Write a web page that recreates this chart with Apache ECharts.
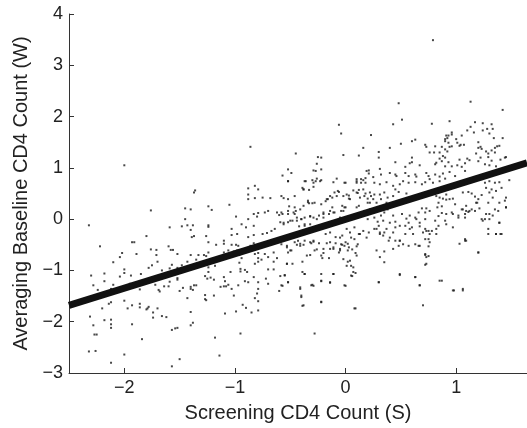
<!DOCTYPE html>
<html>
<head>
<meta charset="utf-8">
<script src="https://cdn.jsdelivr.net/npm/echarts@6/dist/echarts.min.js"></script>
<style>html,body{margin:0;padding:0;background:#fff}#c{width:527px;height:428px}</style>
</head>
<body>
<div id="c"></div>
<script>
const xTicks = [-2, -1, 0, 1];
const yTicks = [-3, -2, -1, 0, 1, 2, 3, 4];
const fitX = [-2.5, 1.64];
const fitY = [-1.68, 1.10];
const points = [
[-2.0,1.05],[-1.36,0.56],[-1.37,0.52],[-1.76,0.17],[-1.45,0.21],[-1.40,0.19],[-1.24,0.25],[-1.21,0.18],[-2.32,-0.12],[-1.45,0.0],[-1.59,-0.16],[-1.48,-0.14],[-1.43,-0.12],[-1.38,-0.12],[-1.40,-0.21],[-1.24,-0.12],[-1.24,-0.15],[-1.80,-0.33],[-1.39,-0.35],[-1.37,-0.33],[-1.26,-0.33],
[-2.22,-0.53],[-1.93,-0.45],[-1.91,-0.45],[-1.60,-0.53],[-1.58,-0.60],[-1.56,-0.60],[-1.76,-0.59],[-1.71,-0.60],[-1.71,-0.70],[-2.02,-0.66],[-2.04,-0.74],[-1.89,-0.68],[-2.10,-0.84],[-1.52,-0.68],[-1.40,-0.70],[-1.33,-0.70],[-1.28,-0.70],[-1.24,-0.65],[-1.24,-0.45],[-1.17,-0.50],[-1.26,-0.72],[-1.35,-0.79],[-1.43,-0.83],[-1.48,-0.90],[-1.57,-0.89],[-1.52,-0.95],[-1.59,-0.96],[-1.66,-1.00],[-1.75,-0.90],[-1.70,-0.83],[-1.78,-0.95],[-1.85,-1.07],[-2.0,-0.98],[-2.0,-1.05],[-1.94,-1.10],[-2.04,-1.12],[-2.18,-1.06],[-2.18,-1.21],[-2.30,-1.10],[-2.10,-1.28],[-2.28,-1.29],[-2.24,-1.38],[-2.12,-1.36],[-1.95,-1.26],[-1.93,-1.32],[-1.90,-1.26],[-1.86,-1.37],[-1.69,-1.38],[-1.68,-1.41],[-1.64,-1.31],[-1.60,-1.31],[-1.72,-1.28],[-1.52,-1.15],[-1.52,-1.18],[-1.59,-1.22],[-1.47,-1.34],[-1.50,-1.40],[-1.40,-1.32],[-1.40,-1.36],[-1.37,-1.29],[-1.35,-1.29],[-1.27,-1.11],[-1.25,-1.16],[-1.22,-1.14],[-1.19,-1.18],[-1.24,-1.03],[-1.24,-0.94],[-1.18,-0.91],[-1.13,-1.32],[-1.27,-1.48],[-1.27,-1.56],[-1.26,-1.58],[-1.19,-1.49],[-1.43,-1.54],[-1.38,-1.38],[-2.0,-1.59],[-2.12,-1.62],[-2.14,-1.65],[-2.20,-1.74],[-1.97,-1.74],[-1.93,-1.68],[-1.86,-1.72],[-1.86,-1.65],[-1.80,-1.76],[-1.79,-1.74],[-1.78,-1.71],[-1.74,-1.82],[-1.74,-1.92],[-1.70,-1.74],[-1.66,-1.89],[-1.62,-1.91],[-1.40,-1.81],[-2.31,-1.90],[-2.28,-2.07],[-2.18,-1.97],[-2.12,-1.96],[-2.12,-2.05],[-2.12,-2.12],[-1.93,-2.05],[-1.38,-2.02],[-1.40,-2.07],[-1.52,-2.12],[-1.54,-2.13],[-1.57,-2.16],[-2.27,-2.25],[-2.25,-2.25],[-1.84,-2.34],[-1.18,-2.31],[-2.32,-2.58],[-2.26,-2.57],[-2.0,-2.64],[-2.12,-2.80],[-1.50,-2.73],[-1.57,-2.87],[-1.14,-2.66],
[-0.06,1.84],[-0.04,1.67],[-0.86,1.41],[-0.45,1.28],[-0.02,1.25],[0.12,1.24],[0.16,1.39],[0.23,1.64],[-0.25,1.21],[-0.22,1.20],[-0.26,1.08],[-0.27,0.94],[-0.29,0.95],[-0.22,0.97],[-0.52,0.97],[-0.49,0.90],[-0.57,0.85],[-0.52,0.74],[-0.26,0.79],[-0.22,0.76],[-0.27,0.74],[-0.36,0.74],[-0.30,0.76],[-0.08,0.79],[-0.11,0.72],[0.0,0.71],[0.10,0.78],[0.10,0.71],[0.14,0.78],[0.18,0.80],[0.16,0.76],[0.18,0.71],[0.19,0.94],[0.21,0.89],[0.21,0.95],[0.25,0.82],[-0.39,0.61],[-0.38,0.58],[-0.33,0.57],[-0.29,0.63],[-0.88,0.60],[-0.88,0.48],[-0.88,0.39],[-0.82,0.65],[-0.79,0.58],[-0.82,0.41],[-0.75,0.42],[-0.68,0.41],[-0.56,0.41],[-1.05,0.28],[-0.06,0.53],[-0.08,0.45],[-0.12,0.42],[-0.16,0.39],[-0.18,0.35],[-0.02,0.45],[0.03,0.46],[0.03,0.40],[0.07,0.56],[0.12,0.57],[0.11,0.51],[0.16,0.58],[0.18,0.50],[0.20,0.40],[0.23,0.45],[0.22,0.32],[0.10,0.23],[0.12,0.26],[-0.03,0.26],[0.00,0.23],[-0.02,0.16],[-0.12,0.23],[-0.11,0.13],[-0.15,0.10],[-0.20,0.10],[-0.20,0.03],[-0.34,0.33],[-0.33,0.31],[-0.30,0.31],[-0.38,0.26],[-0.41,0.19],[-0.51,0.25],[-0.52,0.16],[-0.46,0.23],[-0.45,0.16],[-0.46,0.10],[-0.57,0.10],[-0.60,0.08],[-0.62,0.13],[-0.70,0.16],[-0.73,0.13],[-0.83,0.10],[-0.80,0.05],[-0.79,0.12],[-0.88,0.0],[-0.83,-0.13],[-0.99,0.05],[-0.94,-0.10],[-0.90,-0.16],[-1.03,-0.19],[-0.98,-0.29],[-1.03,-0.31],[-0.88,-0.35],[-0.83,-0.31],[-0.75,-0.29],[-0.71,-0.27],[-0.67,-0.23],[-0.64,-0.19],[-0.59,-0.06],[-0.56,-0.10],[-0.52,-0.06],[-0.48,-0.03],[-0.44,-0.03],[-0.40,0.0],[-0.37,0.03],[-0.32,0.05],[-0.29,0.03],[-0.24,0.07],[-0.42,-0.14],[-0.37,-0.13],[-0.32,-0.10],[0.01,-0.19],[0.04,-0.26],[0.08,-0.16],[0.12,-0.29],[0.16,-0.23],[0.21,-0.26],[-0.03,-0.32],[-0.09,-0.35],[-0.14,-0.26],[-0.18,-0.29],
[-1.10,-0.42],[-1.03,-0.50],[-0.99,-0.50],[-0.97,-0.52],[-1.10,-0.48],[-0.83,-0.47],[-0.86,-0.52],[-1.10,-0.65],[-1.06,-0.61],[-1.01,-0.63],[-0.98,-0.61],[-0.96,-0.70],[-0.94,-0.76],[-0.96,-0.85],[-0.95,-0.97],[-0.95,-1.02],[-0.91,-0.99],[-0.89,-1.03],[-1.10,-1.13],[-1.09,-1.21],[-1.04,-1.03],[-1.10,-1.31],[-1.08,-1.31],[-1.06,-1.28],[-1.03,-1.36],[-1.01,-1.49],[-0.97,-1.29],[-0.91,-1.21],[-0.88,-1.23],[-0.83,-1.13],[-0.82,-0.68],[-0.79,-0.66],[-0.82,-0.87],[-0.79,-0.76],[-0.79,-0.83],[-0.76,-0.79],[-0.79,-1.23],[-0.79,-1.36],[-0.80,-1.45],[-0.82,-1.54],[-0.79,-1.60],[-0.79,-1.78],[-0.85,-1.82],[-0.99,-1.80],[-0.93,-1.67],[-0.90,-1.73],[-1.09,-1.84],[-0.95,-2.23],[-0.73,-0.68],[-0.70,-0.74],[-0.65,-0.65],[-0.62,-0.76],[-0.65,-0.83],[-0.70,-0.98],[-0.65,-0.98],[-0.72,-1.16],[-0.70,-1.26],[-0.59,-1.11],[-0.55,-1.09],[-0.57,-1.30],[-0.60,-1.40],[-0.52,-1.23],[-0.53,-0.87],[-0.48,-0.87],[-0.53,-0.55],[-0.52,-0.65],[-0.49,-0.61],[-0.44,-0.50],[-0.41,-0.48],[-0.38,-0.50],[-0.43,-0.42],[-0.39,-0.83],[-0.39,-1.03],[-0.37,-1.07],[-0.41,-1.36],[-0.40,-1.52],[-0.39,-1.69],[-0.35,-0.71],[-0.32,-0.70],[-0.30,-1.28],[-0.29,-1.30],[-0.31,-0.47],[-0.29,-0.44],[-0.24,-0.47],[-0.26,-0.59],[-0.20,-0.66],[-0.21,-0.76],[-0.15,-0.76],[-0.17,-0.47],[-0.14,-0.58],[-0.09,-0.47],[-0.11,-0.58],[-0.22,-1.07],[-0.22,-1.21],[-0.22,-1.61],[-0.11,-1.07],[-0.14,-1.24],[-0.28,-2.23],[-0.05,-0.58],[-0.06,-0.65],[-0.03,-0.50],[0.0,-0.45],[0.02,-0.48],[0.03,-0.55],[0.06,-0.59],[0.10,-0.53],[0.02,-0.83],[0.07,-0.94],[0.09,-1.05],[0.06,-1.11],[0.0,-1.30],[0.09,-1.74],[0.09,-0.66],
[0.32,0.87],[0.40,0.90],[0.45,0.87],[0.46,0.84],[0.54,0.90],[0.57,0.84],[0.63,0.87],[0.64,0.83],[0.73,0.90],[0.75,0.84],[0.81,0.87],[0.85,0.83],[0.88,0.89],[0.94,0.92],[0.99,0.84],[1.08,0.94],
[0.26,0.71],[0.31,0.68],[0.37,0.72],[0.43,0.65],[0.45,0.58],[0.49,0.68],[0.52,0.74],[0.57,0.71],[0.63,0.72],[0.69,0.68],[0.72,0.72],[0.76,0.78],[0.79,0.71],[0.85,0.74],[0.90,0.79],
[0.26,0.48],[0.31,0.48],[0.35,0.52],[0.38,0.42],[0.32,0.39],[0.28,0.32],[0.37,0.32],[0.43,0.45],[0.48,0.53],[0.55,0.50],
[1.23,0.78],[1.26,0.71],[1.30,0.74],[1.35,0.71],[1.39,0.72],[1.48,0.76],[1.27,0.61],[1.32,0.58],[1.36,0.55],[1.41,0.61],[1.45,0.42],[1.44,0.36],[1.45,0.23],[1.30,0.52],
[0.82,0.45],[0.85,0.42],[0.88,0.40],[0.91,0.38],[0.94,0.39],[0.97,0.40],[0.91,0.48],[0.84,0.32],[0.87,0.25],[0.99,0.29],[1.06,0.52],[1.11,0.53],[1.14,0.50],[1.17,0.44],[1.20,0.39],[1.23,0.47],[1.19,0.32],[1.06,0.19],[1.09,0.16],[1.14,0.19],[1.17,0.16],[1.08,0.03],[1.11,0.14],[1.02,0.07],[0.97,0.10],[0.91,0.10],[0.87,0.12],[0.83,0.23],[0.90,-0.03],[0.84,-0.13],[0.76,0.16],[0.73,0.21],[0.69,0.21],[0.72,0.13],[0.66,0.13],[0.63,0.03],[0.58,0.07],[0.55,0.01],[0.57,-0.07],[0.54,-0.13],[0.60,-0.16],[0.67,-0.07],[0.70,-0.26],[0.75,-0.23],[0.78,-0.23],[0.82,-0.29],[0.67,-0.14],[0.72,-0.19],[0.64,0.0],[0.72,0.0],[0.51,0.10],[0.49,-0.13],[0.45,-0.05],[0.43,0.07],[0.38,0.19],[0.35,0.13],[0.32,0.07],[0.29,-0.05],[0.34,-0.03],[0.40,-0.07],[0.28,-0.19],[0.31,-0.29],[0.35,-0.26],[0.40,-0.36],[0.45,-0.42],[0.49,-0.42],[0.57,-0.52],[0.66,-0.52],[0.76,-0.45],[0.72,-0.39],[0.75,-0.53],[1.08,-0.39],[1.09,-0.42],[1.03,-0.48],[1.20,-0.65],[1.29,-0.19],[1.29,-0.29],[1.30,0.0],[1.33,0.07],[1.36,-0.29],[1.40,-0.29],[1.35,0.19],[1.38,0.16],[1.23,0.0],[1.24,-0.03],[1.27,0.10],[1.39,-0.07],[0.28,-0.61],[0.35,-0.63],[0.43,-0.58],[0.31,-0.74],[0.35,-0.84],[0.72,-0.70],[0.75,-0.72],[0.72,-0.89],[0.49,-1.09],[0.63,-1.13],[0.67,-1.29],[0.30,-1.23],[0.87,-1.20],[0.98,-1.39],[1.06,-1.36],[1.06,-1.39],[0.70,-1.68],
[0.79,3.49],[0.48,2.26],[1.13,2.29],[1.42,2.13],[0.51,1.94],[0.43,1.85],[0.78,1.86],[0.94,1.91],[1.17,1.89],[1.24,1.87],[1.32,1.85],[1.13,1.80],[1.10,1.73],[1.16,1.69],[1.24,1.73],[1.28,1.76],[1.33,1.76],[1.30,1.67],[1.42,1.58],[1.34,1.58],[0.91,1.63],[0.93,1.63],[0.90,1.56],[0.92,1.58],[0.96,1.69],[0.96,1.65],[1.00,1.56],[1.05,1.63],[0.90,1.52],[0.93,1.49],[0.96,1.42],[0.94,1.41],[0.90,1.36],[0.92,1.32],[0.88,1.23],[0.87,1.41],[1.01,1.49],[1.04,1.45],[1.07,1.45],[1.03,1.43],[0.60,1.52],[0.63,1.55],[0.50,1.47],[0.40,1.39],[0.72,1.45],[0.73,1.41],[0.81,1.42],[0.76,1.30],[0.80,1.30],[0.85,1.30],[1.20,1.50],[1.22,1.41],[1.20,1.39],[1.23,1.37],[1.35,1.39],[1.37,1.42],[1.39,1.43],[1.32,1.34],[1.35,1.30],[1.27,1.32],[1.29,1.28],[1.29,1.21],[1.32,1.14],[1.40,1.16],[1.44,1.20],[1.45,1.21],[1.18,1.28],[1.22,1.20],[1.20,1.13],[1.12,1.15],[1.10,1.18],[1.08,1.09],[0.30,1.31],[0.30,1.20],[0.45,1.11],[0.58,1.09],[0.60,1.11],[0.60,1.20],[0.67,1.05],[0.54,1.02],[0.81,1.07],[0.82,1.10],[0.87,1.13],[0.90,1.03],[0.93,1.11],[0.96,1.03],[0.85,1.18],[0.90,1.20],[1.01,1.05],[1.03,1.16],[1.05,1.02],[1.26,1.07],[1.30,1.05],[1.36,1.03],[0.31,0.98],
[-0.52,0.74],[-0.37,0.74],[-0.29,0.71],[-0.23,0.74],[-0.01,0.71],[0.10,0.74],[0.14,0.71],[-0.58,0.45],[-0.52,0.39],[-0.46,0.45],[-0.38,0.58],[-0.34,0.36],[-0.28,0.32],[-0.22,0.29],[-0.17,0.39],[-0.14,0.45],[-0.10,0.52],[-0.07,0.55],[0.01,0.48],[0.04,0.39],[0.10,0.52],[0.13,0.42],[0.17,0.45],[0.22,0.52],[0.20,0.32],[0.25,0.39],
[-0.58,0.13],[-0.52,0.10],[-0.47,0.13],[-0.56,-0.07],[-0.50,-0.03],[-0.44,0.03],[-0.40,0.0],[-0.37,-0.10],[-0.32,0.06],[-0.26,0.0],[-0.20,0.13],[-0.14,0.16],[-0.10,0.13],[-0.04,0.16],[-0.01,0.23],[-0.05,0.03],[0.04,0.0],[0.08,0.06],[0.13,0.10],[0.17,0.16],[0.22,0.19],[0.20,0.0],[0.26,0.03],
[-0.58,-0.49],[-0.53,-0.52],[-0.50,-0.61],[-0.46,-0.45],[-0.41,-0.52],[-0.37,-0.42],[-0.32,-0.45],[-0.29,-0.42],[-0.28,-0.61],[-0.20,-0.58],[-0.22,-0.71],[-0.14,-0.45],[-0.11,-0.55],[-0.05,-0.36],[-0.04,-0.49],[-0.01,-0.52],[0.02,-0.61],[0.05,-0.36],[0.08,-0.39],[0.11,-0.49],[0.13,-0.29],[0.10,-0.71],[-0.05,-0.61],[0.04,-0.81],[-0.02,-0.78],[0.01,-0.91],[0.05,-1.10],[0.07,-1.03],[0.19,-0.36],[0.26,-0.19],[0.30,-0.13],[0.31,-0.26],[0.34,-0.32],[0.39,-0.42],[0.37,-0.19],[0.45,-0.16],[0.43,-0.26],[0.49,-0.42],[0.54,-0.29],[0.52,-0.49],[0.48,-0.52],[0.58,-0.19],[0.61,-0.29],[0.63,-0.49],[0.72,-0.68],[0.73,-0.74],[0.67,-0.52],[0.75,-0.39],[0.76,-0.29],[0.73,-0.23],[0.82,-0.19],[0.81,-0.03],[0.84,0.06],[0.91,-0.10],[0.97,-0.16],[0.96,0.13],[1.02,0.03],[1.08,0.10],[1.05,0.19],[1.09,0.26],[1.12,0.16],[1.21,0.21],[1.26,0.0],[1.30,0.10],[1.18,0.32],[1.29,0.32],[1.33,0.42],[1.39,0.32],[1.45,0.23],
[-0.53,-0.87],[-0.55,-1.10],[-0.58,-1.29],[-0.52,-1.23],[-0.41,-1.33],[-0.38,-1.68],[-0.40,-1.49],[-0.37,-1.07],[-0.31,-1.29],[-0.22,-1.20],[-0.22,-1.62],[-0.11,-1.07],[-0.14,-1.23],[-0.01,-1.29],[0.08,-1.74],[0.05,-0.91],[0.30,-1.23],[0.49,-1.07],[0.63,-1.13],[0.67,-1.29],[0.73,-0.87],[0.85,-1.20],[0.97,-1.39],[1.08,-0.42],[1.20,-0.65],[1.36,-0.29],[1.41,-0.29],[1.39,-0.07]
];

const fmt = v => String(v).replace('-', '\u2212');
const chart = echarts.init(document.getElementById('c'), null, {renderer: 'canvas'});
const font = 'Liberation Sans, Arial, Helvetica, sans-serif';
chart.setOption({
  animation: false,
  backgroundColor: '#fff',
  grid: {left: 69, right: 0, top: 14, bottom: 53},
  xAxis: {
    type: 'value', min: -2.5, max: 1.64,
    name: 'Screening CD4 Count (S)', nameLocation: 'middle', nameGap: 30,
    nameTextStyle: {fontFamily: font, fontSize: 20, color: '#222'},
    splitLine: {show: false},
    axisLine: {onZero: false, lineStyle: {color: '#333', width: 1}},
    axisTick: {inside: true, length: 5, lineStyle: {color: '#333'}, customValues: xTicks},
    axisLabel: {fontFamily: font, fontSize: 18, color: '#222', margin: 6, formatter: fmt, customValues: xTicks}
  },
  yAxis: {
    type: 'value', min: -3, max: 4, interval: 1,
    name: 'Averaging Baseline CD4 Count (W)', nameLocation: 'middle', nameGap: 37,
    nameTextStyle: {fontFamily: font, fontSize: 20, color: '#222'},
    splitLine: {show: false},
    axisLine: {onZero: false, lineStyle: {color: '#333', width: 1}},
    axisTick: {inside: true, length: 5, lineStyle: {color: '#333'}},
    axisLabel: {fontFamily: font, fontSize: 18, color: '#222', margin: 6, formatter: fmt, customValues: yTicks}
  },
  series: [
    {type: 'scatter', data: points, symbol: 'rect', symbolSize: 2, itemStyle: {color: '#1a1a1a'}, z: 2, silent: true},
    {type: 'line', data: fitX.map((x, i) => [x, fitY[i]]), symbol: 'none', lineStyle: {color: '#111', width: 7}, z: 3, silent: true}
  ]
});
</script>
</body>
</html>
